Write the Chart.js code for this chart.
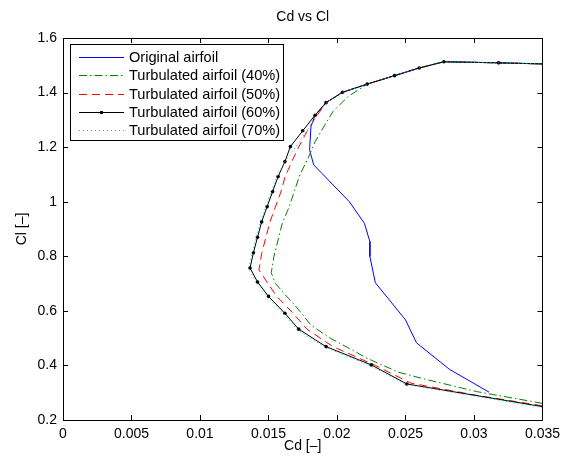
<!DOCTYPE html>
<html>
<head>
<meta charset="utf-8">
<script src="https://cdn.jsdelivr.net/npm/chart.js@4/dist/chart.umd.min.js"></script>
<style>
  html, body { margin: 0; padding: 0; background: #fff; }
  #wrap { width: 566px; height: 464px; }
</style>
</head>
<body>
<div id="wrap"><canvas id="chart" width="566" height="464"></canvas></div>
<script>
// Drag polar: Cd on the horizontal axis, Cl on the vertical axis
const seriesNames = [
  'Original airfoil',
  'Turbulated airfoil (40%)',
  'Turbulated airfoil (50%)',
  'Turbulated airfoil (60%)',
  'Turbulated airfoil (70%)'
];

const cdOriginal = [0.0350, 0.0318, 0.0278, 0.0260, 0.0242, 0.0222, 0.0204, 0.0192, 0.0184, 0.0181, 0.0180, 0.0183, 0.0189, 0.0209, 0.0220, 0.0224, 0.0224, 0.0228, 0.0250, 0.0258, 0.0282, 0.0311];
const clOriginal = [1.505, 1.509, 1.513, 1.490, 1.462, 1.431, 1.401, 1.363, 1.317, 1.275, 1.190, 1.135, 1.104, 1.000, 0.921, 0.854, 0.799, 0.703, 0.567, 0.483, 0.386, 0.302];

const cd40 = [0.0350, 0.0302, 0.0264, 0.0245, 0.0222, 0.0208, 0.0194, 0.0181, 0.0169, 0.0162, 0.0155, 0.0152, 0.0154, 0.0157, 0.0160, 0.0165, 0.0169, 0.0173, 0.0179, 0.0184, 0.0191, 0.0197, 0.0208, 0.0222, 0.0242, 0.0260, 0.0278, 0.0318, 0.0350];
const cl40 = [0.261, 0.304, 0.350, 0.375, 0.426, 0.465, 0.503, 0.548, 0.622, 0.660, 0.701, 0.740, 0.800, 0.860, 0.920, 0.980, 1.040, 1.100, 1.160, 1.220, 1.280, 1.330, 1.385, 1.431, 1.462, 1.490, 1.513, 1.509, 1.505];

const cd50 = [0.0350, 0.0300, 0.0254, 0.0228, 0.0197, 0.0178, 0.0168, 0.0156, 0.0149, 0.0143, 0.0145, 0.0148, 0.0151, 0.0155, 0.0159, 0.0162, 0.0167, 0.0172, 0.0178, 0.0185, 0.0192, 0.0204, 0.0222, 0.0242, 0.0260, 0.0278, 0.0318, 0.0350];
const cl50 = [0.252, 0.292, 0.335, 0.400, 0.469, 0.533, 0.591, 0.653, 0.705, 0.750, 0.810, 0.868, 0.925, 0.980, 1.035, 1.090, 1.147, 1.200, 1.257, 1.313, 1.363, 1.401, 1.431, 1.462, 1.490, 1.513, 1.509, 1.505];

const cd60 = [0.0350, 0.0251, 0.0225, 0.0192, 0.0172, 0.0162, 0.0150, 0.0142, 0.01365, 0.0139, 0.0142, 0.0145, 0.0149, 0.0153, 0.0157, 0.0162, 0.0166, 0.0175, 0.0184, 0.0192, 0.0204, 0.0222, 0.0242, 0.0260, 0.0278, 0.0318, 0.0350];
const cl60 = [0.249, 0.332, 0.402, 0.469, 0.533, 0.591, 0.653, 0.706, 0.757, 0.813, 0.870, 0.926, 0.982, 1.037, 1.092, 1.147, 1.202, 1.260, 1.317, 1.363, 1.401, 1.431, 1.462, 1.490, 1.513, 1.509, 1.505];

const cd70 = [0.0350, 0.0250, 0.0224, 0.0191, 0.0171, 0.0161, 0.0149, 0.0141, 0.01355, 0.0138, 0.0141, 0.0144, 0.0148, 0.0152, 0.0156, 0.0162, 0.0170, 0.0178, 0.0186, 0.0192, 0.0204, 0.0222, 0.0242, 0.0260, 0.0278, 0.0318, 0.0350];
const cl70 = [0.246, 0.330, 0.400, 0.467, 0.531, 0.589, 0.651, 0.704, 0.757, 0.813, 0.870, 0.926, 0.982, 1.037, 1.092, 1.147, 1.202, 1.260, 1.317, 1.363, 1.401, 1.431, 1.462, 1.490, 1.513, 1.509, 1.505];

const xTicks = [0, 0.005, 0.01, 0.015, 0.02, 0.025, 0.03, 0.035];
const xTickLabels = ['0', '0.005', '0.01', '0.015', '0.02', '0.025', '0.03', '0.035'];
const yTicks = [0.2, 0.4, 0.6, 0.8, 1.0, 1.2, 1.4, 1.6];
const yTickLabels = ['0.2', '0.4', '0.6', '0.8', '1', '1.2', '1.4', '1.6'];

const chartTitle = 'Cd vs Cl';
const xTitle = 'Cd [\u2013]';
const yTitle = 'Cl [\u2013]';

const FONT = '"Liberation Sans", Arial, Helvetica, sans-serif';
const FONT_SIZE = 14;
const LEGEND_FONT_SIZE = 14.6;

const toPoints = (xs, ys) => xs.map((x, i) => ({ x: x, y: ys[i] }));

// hide markers that sit on the right-hand frame
const markerRadius = (r) => (ctx) => {
  const p = ctx.raw;
  return p && p.x >= 0.035 ? 0 : r;
};

const datasets = [
  { label: seriesNames[0], data: toPoints(cdOriginal, clOriginal), borderColor: '#0000ff', borderWidth: 1, borderDash: [], pointRadius: 0, order: 5 },
  { label: seriesNames[1], data: toPoints(cd40, cl40), borderColor: '#008000', borderWidth: 1, borderDash: [8, 3, 1.5, 3], pointRadius: 0, order: 4 },
  { label: seriesNames[2], data: toPoints(cd50, cl50), borderColor: '#ff0000', borderWidth: 1, borderDash: [8, 5], pointRadius: 0, order: 3 },
  { label: seriesNames[3], data: toPoints(cd60, cl60), borderColor: '#000000', borderWidth: 1, borderDash: [], pointRadius: markerRadius(1.8), pointBackgroundColor: '#000', pointBorderWidth: 0, order: 2 },
  { label: seriesNames[4], data: toPoints(cd70, cl70), borderColor: 'rgb(0,200,200)', borderWidth: 1, borderDash: [1, 3], pointRadius: 0, order: 1 }
];
datasets.forEach(d => { d.showLine = true; d.fill = false; d.tension = 0; d.pointHoverRadius = 0; });

// Frame, inward ticks, titles and the boxed legend
const decorations = {
  id: 'decorations',
  afterDraw(chart) {
    const { ctx, chartArea: a, scales } = chart;
    const tl = 5;
    ctx.save();
    ctx.strokeStyle = '#000';
    ctx.lineWidth = 1;
    ctx.setLineDash([]);
    ctx.strokeRect(Math.round(a.left) + 0.5, Math.round(a.top) + 0.5, Math.round(a.right - a.left), Math.round(a.bottom - a.top));

    ctx.beginPath();
    xTicks.forEach(v => {
      const px = Math.round(scales.x.getPixelForValue(v)) + 0.5;
      ctx.moveTo(px, a.bottom); ctx.lineTo(px, a.bottom - tl);
      ctx.moveTo(px, a.top); ctx.lineTo(px, a.top + tl);
    });
    yTicks.forEach(v => {
      const py = Math.round(scales.y.getPixelForValue(v)) + 0.5;
      ctx.moveTo(a.left, py); ctx.lineTo(a.left + tl, py);
      ctx.moveTo(a.right, py); ctx.lineTo(a.right - tl, py);
    });
    ctx.stroke();

    ctx.fillStyle = '#000';
    ctx.font = FONT_SIZE + 'px ' + FONT;
    ctx.textAlign = 'center';
    ctx.textBaseline = 'middle';
    const cx = (a.left + a.right) / 2;
    ctx.fillText(chartTitle, cx, 17);
    ctx.fillText(xTitle, cx, 446);
    ctx.save();
    ctx.translate(22, (a.top + a.bottom) / 2);
    ctx.rotate(-Math.PI / 2);
    ctx.fillText(yTitle, 0, 0);
    ctx.restore();

    // legend
    const box = { x: 70, y: 44, w: 213, h: 96 };
    ctx.fillStyle = '#fff';
    ctx.fillRect(box.x, box.y, box.w, box.h);
    ctx.strokeStyle = '#000';
    ctx.lineWidth = 1;
    ctx.strokeRect(box.x + 0.5, box.y + 0.5, box.w, box.h);
    const rowH = 18.3;
    const firstRow = 57;
    ctx.font = LEGEND_FONT_SIZE + 'px ' + FONT;
    ctx.textAlign = 'left';
    datasets.forEach((d, i) => {
      const y = Math.round(firstRow + i * rowH) + 0.5;
      ctx.strokeStyle = d.borderColor;
      ctx.lineWidth = d.borderWidth;
      ctx.setLineDash(d.borderDash);
      ctx.beginPath();
      ctx.moveTo(79, y); ctx.lineTo(124, y);
      ctx.stroke();
      ctx.setLineDash([]);
      if (i === 3) {
        ctx.fillStyle = '#000';
        ctx.beginPath();
        ctx.arc(101.5, y, 1.8, 0, Math.PI * 2);
        ctx.fill();
      }
      ctx.fillStyle = '#000';
      ctx.fillText(d.label, 129, y);
    });
    ctx.restore();
  }
};

new Chart(document.getElementById('chart'), {
  type: 'scatter',
  data: { datasets: datasets },
  options: {
    responsive: false,
    animation: false,
    devicePixelRatio: 1,
    layout: { padding: { top: 38, right: 20, left: 0, bottom: 0 } },
    plugins: { legend: { display: false }, title: { display: false }, tooltip: { enabled: false } },
    scales: {
      x: {
        type: 'linear', min: 0, max: 0.035,
        grid: { display: false, drawTicks: false },
        border: { display: false },
        afterBuildTicks: s => { s.ticks = xTicks.map(v => ({ value: v })); },
        afterFit: s => { s.height = 44; },
        ticks: {
          autoSkip: false, maxRotation: 0, padding: 6, color: '#000',
          font: { family: FONT, size: FONT_SIZE },
          callback: (v, i) => xTickLabels[i]
        }
      },
      y: {
        type: 'linear', min: 0.2, max: 1.6,
        grid: { display: false, drawTicks: false },
        border: { display: false },
        afterBuildTicks: s => { s.ticks = yTicks.map(v => ({ value: v })); },
        afterFit: s => { s.width = 63; },
        ticks: {
          autoSkip: false, padding: 6, color: '#000',
          font: { family: FONT, size: FONT_SIZE },
          callback: (v, i) => yTickLabels[i]
        }
      }
    }
  },
  plugins: [decorations]
});
</script>
</body>
</html>
